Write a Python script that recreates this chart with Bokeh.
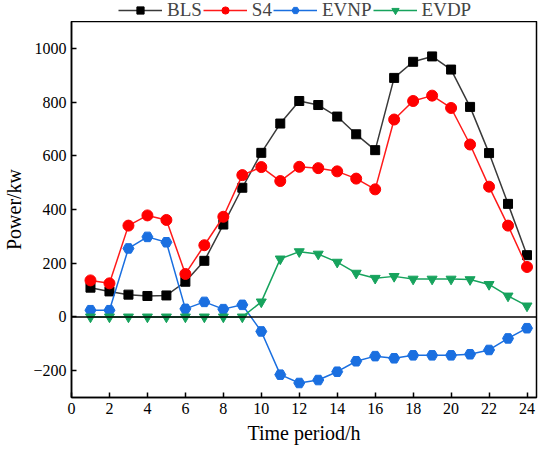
from bokeh.plotting import figure
from bokeh.layouts import column
from bokeh.models import Span, FixedTicker, Legend, LegendItem, Range1d
from bokeh.embed import file_html
from bokeh.resources import INLINE

hours = list(range(1, 25))
bls = [109, 95, 83, 78, 80, 131, 209, 344, 481, 611, 720, 804, 789, 746, 680, 621,
       890, 950, 970, 921, 782, 610, 421, 230]
s4 = [136, 125, 340, 378, 361, 160, 267, 373, 528, 558, 506, 559, 554, 542, 515, 475,
      735, 804, 824, 778, 642, 485, 340, 186]
evnp = [25, 25, 255, 298, 278, 30, 56, 29, 45, -54, -215, -246, -235, -204, -165, -146,
        -154, -143, -143, -143, -139, -123, -80, -42]
evdp = [0, 0, 0, 0, 0, 0, 0, 0, 0, 56, 216, 243, 234, 204, 163, 144,
        151, 141, 141, 141, 139, 121, 78, 41]
x_ticks = list(range(0, 25, 2))
y_ticks = list(range(-200, 1001, 200))
names = ["BLS", "S4", "EVNP", "EVDP"]

FONT = "Liberation Serif"
styles = [
    dict(line="#3a3a3a", fill="black", marker="square", size=9),
    dict(line="#ff1a1a", fill="#ff0000", marker="circle", size=11),
    dict(line="#1a6fe0", fill="#1a6fe0", marker="hex", size=11),
    dict(line="#17a35d", fill="#17a35d", marker="inverted_triangle", size=10),
]
series = [bls, s4, evnp, evdp]

p = figure(width=542, height=430, output_backend="svg", toolbar_location=None,
           x_range=Range1d(0, 24.5), y_range=Range1d(-300, 1100),
           min_border_left=69, min_border_right=6, min_border_bottom=54, min_border_top=0)
p.grid.visible = False
p.outline_line_color = "black"
p.outline_line_width = 1.5
p.add_layout(Span(location=0, dimension="width", line_color="black", line_width=1.5))

for vals, st in zip(series, styles):
    p.line(hours, vals, line_color=st["line"], line_width=1.5)
    p.scatter(hours, vals, marker=st["marker"], size=st["size"],
              fill_color=st["fill"], line_color=st["fill"])

for ax in (p.xaxis[0], p.yaxis[0]):
    ax.major_label_text_font = FONT
    ax.major_label_text_font_size = "16px"
    ax.axis_label_text_font = FONT
    ax.axis_label_text_font_size = "20px"
    ax.axis_label_text_font_style = "normal"
    ax.major_tick_in = 5
    ax.major_tick_out = 0
    ax.minor_tick_line_color = None
    ax.axis_line_width = 1.5
    ax.major_tick_line_width = 1.5
    ax.major_label_text_color = "black"
    ax.axis_label_text_color = "black"

p.xaxis[0].ticker = FixedTicker(ticks=x_ticks)
p.yaxis[0].ticker = FixedTicker(ticks=y_ticks)
p.xaxis[0].axis_label = "Time period/h"
p.yaxis[0].axis_label = "Power/kw"

# legend strip above the plot (dummy samples placed outside its visible range)
lg = figure(width=542, height=21, output_backend="svg", toolbar_location=None,
            x_range=Range1d(0, 1), y_range=Range1d(0, 1),
            x_axis_location=None, y_axis_location=None,
            min_border_left=0, min_border_right=0, min_border_top=0, min_border_bottom=0)
lg.grid.visible = False
lg.outline_line_color = None
items = []
for name, st in zip(names, styles):
    rl = lg.line([-5, -4], [-5, -4], line_color=st["line"], line_width=1.5)
    rm = lg.scatter([-5], [-5], marker=st["marker"], size=st["size"] - 1,
                    fill_color=st["fill"], line_color=st["fill"])
    items.append(LegendItem(label=name, renderers=[rl, rm]))
legend = Legend(items=items, orientation="horizontal", location=(47, 0))
legend.label_text_font = FONT
legend.label_text_font_size = "19px"
legend.glyph_width = 44
legend.label_standoff = 5
legend.spacing = 1
legend.padding = 0
legend.margin = 0
legend.border_line_color = None
legend.background_fill_alpha = 0
legend.label_height = 18
legend.glyph_height = 18
lg.add_layout(legend, "center")

layout = column(lg, p, spacing=0)
open("out.html", "w").write(file_html(layout, INLINE))
